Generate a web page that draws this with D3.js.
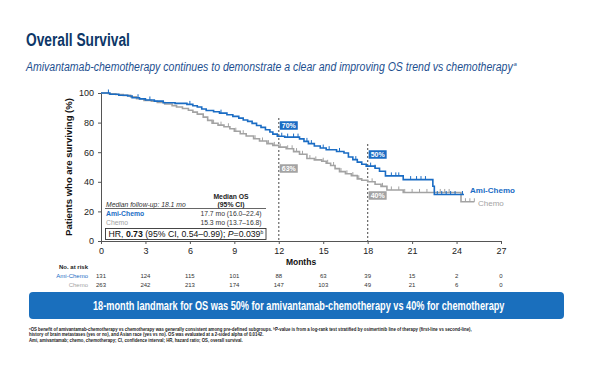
<!DOCTYPE html>
<html><head><meta charset="utf-8">
<script src="https://cdn.jsdelivr.net/npm/d3@7"></script>
<style>
html,body{margin:0;padding:0;background:#fff;}
svg{display:block;font-family:"Liberation Sans",Arial,sans-serif;}
.narrow{font-family:"Liberation Sans Narrow","Liberation Sans",Arial,sans-serif;}
</style></head>
<body>
<svg id="chart" width="600" height="365"></svg>
<script>
// ---- data ----
const xTicks = [0,3,6,9,12,15,18,21,24,27];
const yTicks = [0,20,40,60,80,100];
const amiSteps = [[0,100],[0.6,99.2],[1.2,98.5],[1.8,98.0],[2.1,96.8],[2.6,96.0],[3.0,95.3],[3.6,94.5],[4.2,93.4],[5.0,93.0],[5.8,92.3],[6.2,91.4],[6.5,90.5],[6.8,89.2],[7.1,88.2],[7.6,87.3],[8.0,86.4],[8.5,85.3],[8.9,84.2],[9.3,83.0],[9.6,81.8],[9.9,80.8],[10.2,79.5],[10.5,78.0],[10.8,76.8],[11.1,75.2],[11.4,73.6],[11.6,72.2],[11.9,70.8],[12.4,70.2],[13.4,69.0],[13.7,67.3],[14.0,65.8],[14.4,64.2],[14.8,62.8],[15.2,61.7],[15.9,60.5],[16.4,59.5],[16.7,56.8],[17.0,55.0],[17.3,53.3],[17.6,51.9],[17.9,50.6],[18.5,49.2],[18.8,47.1],[19.2,44.0],[20.4,41.5],[22.4,37.0],[22.5,31.4]];
const amiEnd = 24.5;
const chemoSteps = [[0,100],[0.5,99.5],[1.0,99.0],[1.5,98.4],[2.0,97.4],[2.4,96.1],[2.9,95.0],[3.4,94.4],[3.8,93.6],[4.3,92.6],[4.8,91.5],[5.1,90.5],[5.5,89.5],[5.9,88.3],[6.2,87.1],[6.5,85.7],[6.9,83.7],[7.2,81.5],[7.5,79.6],[7.9,78.3],[8.3,77.2],[8.7,75.8],[9.0,74.2],[9.4,72.5],[9.8,70.9],[10.3,69.1],[10.7,67.6],[11.2,65.8],[11.6,64.6],[12.0,63.4],[12.5,62.3],[13.0,60.4],[13.4,58.6],[13.9,55.7],[14.4,54.8],[14.9,53.9],[15.2,52.5],[15.5,51.0],[15.8,48.9],[16.1,46.9],[16.5,45.4],[16.9,44.2],[17.3,42.0],[17.6,41.0],[18.0,40.0],[18.5,38.3],[18.9,36.9],[19.3,34.5],[20.4,32.8],[24.3,26.5]];
const chemoEnd = 25.2;
const amiCensor = [0.5,2.5,3.3,6.0,8.1,12.2,12.6,13.0,13.3,13.9,14.2,15.0,15.4,16.1,17.2,18.2,18.5,19.6,19.9,20.1,20.9,21.3,21.6,21.9,22.7,23.0,23.3,23.6,23.9,24.4];
const chemoCensor = [7.6,8.1,8.6,9.1,9.6,10.4,10.9,11.3,11.7,12.1,12.6,12.9,13.2,13.6,14.1,14.5,15.0,15.3,15.7,16.2,16.6,17.0,17.4,18.3,19.0,19.6,20.1,20.5,21.0,21.5,22.0,22.5,22.9,23.2,23.5,24.6,24.9,25.2];
const riskLabels = ["Ami-Chemo","Chemo"];
const riskAmi = [131,124,115,101,88,63,39,15,2,0];
const riskChemo = [263,242,213,174,147,103,49,21,6,0];
const landmarks = [{t:12, ami:70, chemo:63},{t:18, ami:50, chemo:40}];
const medianRows = [["Ami-Chemo","17.7 mo (16.0–22.4)"],["Chemo","15.3 mo (13.7–16.8)"]];

const BLUE = "#1a6cc4", GRAY = "#a3a3a3", NAVY = "#0d3768";

const svg = d3.select("#chart");
const x = d3.scaleLinear().domain([0,27]).range([101,501]);
const y = d3.scaleLinear().domain([0,100]).range([241,93]);

// condensed text: scale horizontally to a target width
function fitText(txt, x0, y0, size, width, attrs, anchor){
  const t = svg.append("text").attr("class","narrow").attr("font-size",size).text(txt);
  Object.entries(attrs||{}).forEach(([k,v])=>t.attr(k,v));
  const nat = t.node().getComputedTextLength();
  const k = Math.min(1, width/nat);
  const left = anchor==="middle" ? x0 - width/2 : x0;
  t.attr("transform",`translate(${left},${y0}) scale(${k},1)`);
  return t;
}

// ---- titles ----
fitText("Overall Survival",26,46,19,104,{"font-weight":"bold",fill:NAVY});
fitText("Amivantamab-chemotherapy continues to demonstrate a clear and improving OS trend vs chemotherapy",26,71,13.5,487,{"font-style":"italic",fill:"#1d4f8f"});
svg.append("text").attr("class","narrow").attr("x",513.5).attr("y",66)
  .attr("font-size",6).attr("font-style","italic").attr("fill","#1d4f8f").text("a");

// ---- axes ----
const yAxis = d3.axisLeft(y).tickValues(yTicks).tickSize(3).tickPadding(4);
const gy = svg.append("g").attr("transform","translate(101,0)").call(yAxis);
gy.selectAll("text").attr("font-size",9).attr("fill","#222").attr("font-family","Liberation Sans, Arial");
gy.select(".domain").attr("stroke","#555");
gy.selectAll(".tick line").attr("stroke","#555");

const xAxis = d3.axisBottom(x).tickValues(xTicks).tickSize(3).tickPadding(4);
const gx = svg.append("g").attr("transform","translate(0,241)").call(xAxis);
gx.selectAll("text").attr("font-size",9).attr("fill","#222").attr("font-family","Liberation Sans, Arial");
gx.select(".domain").attr("stroke","#555");
gx.selectAll(".tick line").attr("stroke","#555");

svg.append("text").attr("x",301).attr("y",265).attr("text-anchor","middle")
  .attr("font-size",8.5).attr("font-weight","bold").attr("fill","#111").text("Months");
svg.append("text").attr("transform","translate(72,167) rotate(-90)").attr("text-anchor","middle")
  .attr("font-size",9.5).attr("font-weight","bold").attr("fill","#111").text("Patients who are surviving (%)");

// ---- landmark dotted lines ----
svg.append("line").attr("x1",x(12)).attr("x2",x(12)).attr("y1",118).attr("y2",241)
  .attr("stroke","#666").attr("stroke-width",1.2).attr("stroke-dasharray","2,2");
svg.append("line").attr("x1",x(18)).attr("x2",x(18)).attr("y1",144).attr("y2",241)
  .attr("stroke","#666").attr("stroke-width",1.2).attr("stroke-dasharray","2,2");

// ---- KM curves ----
function stepLine(steps, end){
  const pts = steps.slice();
  pts.push([end, steps[steps.length-1][1]]);
  return d3.line().x(d=>x(d[0])).y(d=>y(d[1])).curve(d3.curveStepAfter)(pts);
}
function survAt(steps, t){
  let s = steps[0][1];
  for(const p of steps){ if(p[0] <= t) s = p[1]; }
  return s;
}
svg.append("path").attr("d",stepLine(chemoSteps,chemoEnd)).attr("fill","none").attr("stroke",GRAY).attr("stroke-width",1.6);
svg.selectAll(".cc").data(chemoCensor).join("line")
  .attr("x1",d=>x(d)).attr("x2",d=>x(d))
  .attr("y1",d=>y(survAt(chemoSteps,d))).attr("y2",d=>y(survAt(chemoSteps,d))-3.5)
  .attr("stroke",GRAY).attr("stroke-width",1);
svg.append("path").attr("d",stepLine(amiSteps,amiEnd)).attr("fill","none").attr("stroke",BLUE).attr("stroke-width",1.6);
svg.selectAll(".ac").data(amiCensor).join("line")
  .attr("x1",d=>x(d)).attr("x2",d=>x(d))
  .attr("y1",d=>y(survAt(amiSteps,d))).attr("y2",d=>y(survAt(amiSteps,d))-3.5)
  .attr("stroke",BLUE).attr("stroke-width",1);

// ---- landmark boxes ----
function tag(t, v, yc, color){
  const bx = x(t)+1, w = 18, h = 8.5;
  svg.append("rect").attr("x",bx).attr("y",yc-h/2).attr("width",w).attr("height",h).attr("fill",color);
  svg.append("text").attr("x",bx+w/2).attr("y",yc+2.6).attr("text-anchor","middle")
    .attr("font-size",7).attr("font-weight","bold").attr("fill","#fff").text(v+"%");
}
tag(landmarks[0].t, landmarks[0].ami, 125.5, BLUE);
tag(landmarks[0].t, landmarks[0].chemo, 168.5, GRAY);
tag(landmarks[1].t, landmarks[1].ami, 154.5, BLUE);
tag(landmarks[1].t, landmarks[1].chemo, 195.5, GRAY);

// ---- curve labels ----
svg.append("text").attr("x",470).attr("y",193).attr("font-size",8).attr("font-weight","bold").attr("fill",BLUE).text("Ami-Chemo");
svg.append("text").attr("x",478).attr("y",206).attr("font-size",8).attr("fill",GRAY).text("Chemo");

// ---- median table ----
svg.append("text").attr("x",231).attr("y",198.5).attr("text-anchor","middle").attr("font-size",6.8).attr("font-weight","bold").attr("fill","#222").text("Median OS");
svg.append("text").attr("x",231).attr("y",206.5).attr("text-anchor","middle").attr("font-size",6.8).attr("font-weight","bold").attr("fill","#222").text("(95% CI)");
svg.append("text").attr("x",106).attr("y",206.5).attr("font-size",6.8).attr("font-style","italic").attr("fill","#333").text("Median follow-up: 18.1 mo");
svg.append("line").attr("x1",105).attr("x2",266).attr("y1",208.5).attr("y2",208.5).attr("stroke","#555").attr("stroke-width",0.9);
medianRows.forEach((r,i)=>{
  const yy = 216 + i*9;
  svg.append("text").attr("x",106).attr("y",yy).attr("font-size",6.8).attr("font-weight", i===0?"bold":"normal")
    .attr("fill", i===0?BLUE:GRAY).text(r[0]);
  svg.append("text").attr("x",231).attr("y",yy).attr("text-anchor","middle").attr("font-size",6.8).attr("fill","#333").text(r[1]);
});
svg.append("rect").attr("x",105.5).attr("y",228.5).attr("width",160.5).attr("height",11)
  .attr("fill","#fff").attr("stroke","#333").attr("stroke-width",0.9);
const hr = svg.append("text").attr("x",108.5).attr("y",237.2).attr("font-size",8.7).attr("fill","#111");
hr.append("tspan").text("HR, ");
hr.append("tspan").attr("font-weight","bold").text("0.73");
hr.append("tspan").text(" (95% CI, 0.54–0.99); ");
hr.append("tspan").attr("font-style","italic").text("P");
hr.append("tspan").text("=0.039");
hr.append("tspan").attr("font-size",5).attr("dy",-3).text("b");

// ---- risk table ----
svg.append("text").attr("x",88).attr("y",268.5).attr("text-anchor","end").attr("font-size",6).attr("font-weight","bold").attr("fill","#222").text("No. at risk");
[riskAmi, riskChemo].forEach((row,i)=>{
  const yy = 278 + i*8.8;
  svg.append("text").attr("x",88).attr("y",yy).attr("text-anchor","end").attr("font-size",6)
    .attr("fill", i===0?BLUE:GRAY).text(riskLabels[i]);
  svg.selectAll(".r"+i).data(row).join("text").attr("x",(d,j)=>x(xTicks[j])).attr("y",yy)
    .attr("text-anchor","middle").attr("font-size",6).attr("fill","#333").text(d=>d);
});

// ---- banner ----
svg.append("rect").attr("x",29).attr("y",292).attr("width",535).attr("height",27).attr("rx",4).attr("fill","#1a6fbd");
fitText("18-month landmark for OS was 50% for amivantamab-chemotherapy vs 40% for chemotherapy",299,309.5,12,412,{"font-weight":"bold",fill:"#fff"},"middle");

// ---- footnotes ----
const fn = [
  ["ᵃOS benefit of amivantamab-chemotherapy vs chemotherapy was generally consistent among pre-defined subgroups. ᵇP-value is from a log-rank test stratified by osimertinib line of therapy (first-line vs second-line),", 444],
  ["history of brain metastases (yes or no), and Asian race (yes vs no). OS was evaluated at a 2-sided alpha of 0.0142.", 235],
  ["Ami, amivantamab; chemo, chemotherapy; CI, confidence interval; HR, hazard ratio; OS, overall survival.", 214]
];
fn.forEach((f,i)=>{
  fitText(f[0],29,331+i*5.4,5,f[1],{"font-weight":"bold",fill:"#222"});
});
</script>
</body></html>
